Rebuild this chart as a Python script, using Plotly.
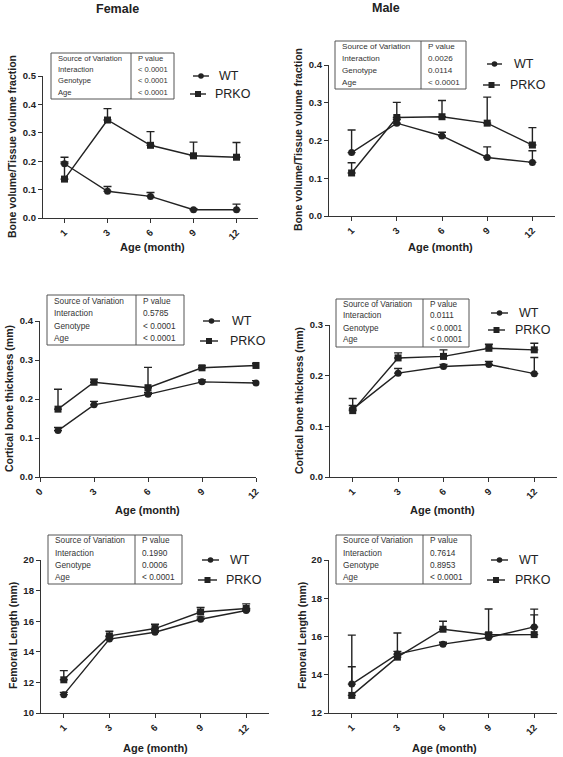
import plotly.graph_objects as go

W, H = 563, 757

# ---------------- data ----------------
ages_cat = ["1", "3", "6", "9", "12"]
ages_num = [1, 3, 6, 9, 12]
x_ticks_num = [0, 3, 6, 9, 12]

f_bv_wt = [0.191, 0.094, 0.076, 0.029, 0.029]
f_bv_wt_err = [0.023, 0.017, 0.014, 0.004, 0.020]
f_bv_ko = [0.137, 0.345, 0.256, 0.219, 0.214]
f_bv_ko_err = [0.060, 0.040, 0.048, 0.048, 0.052]

m_bv_wt = [0.168, 0.246, 0.212, 0.155, 0.142]
m_bv_wt_err = [0.060, 0.010, 0.010, 0.028, 0.031]
m_bv_ko = [0.114, 0.261, 0.263, 0.246, 0.188]
m_bv_ko_err = [0.027, 0.040, 0.043, 0.069, 0.046]

f_ct_wt = [0.119, 0.185, 0.212, 0.244, 0.241]
f_ct_wt_err = [0.008, 0.009, 0.005, 0.005, 0.006]
f_ct_ko = [0.174, 0.243, 0.229, 0.280, 0.286]
f_ct_ko_err = [0.051, 0.008, 0.052, 0.005, 0.005]

m_ct_wt = [0.134, 0.205, 0.218, 0.222, 0.204]
m_ct_wt_err = [0.021, 0.009, 0.004, 0.006, 0.032]
m_ct_ko = [0.131, 0.235, 0.238, 0.254, 0.251]
m_ct_ko_err = [0.010, 0.010, 0.013, 0.008, 0.013]

f_fl_wt = [11.20, 14.83, 15.28, 16.13, 16.70]
f_fl_wt_err = [0.15, 0.15, 0.12, 0.15, 0.10]
f_fl_ko = [12.17, 15.04, 15.52, 16.60, 16.83]
f_fl_ko_err = [0.60, 0.30, 0.28, 0.30, 0.30]

m_fl_wt = [13.51, 15.08, 15.60, 15.95, 16.50]
m_fl_wt_err = [2.56, 1.10, 0.10, 1.49, 0.93]
m_fl_ko = [12.92, 14.92, 16.38, 16.09, 16.10]
m_fl_ko_err = [1.50, 0.30, 0.42, 0.10, 1.03]

table_sources = ["Interaction", "Genotype", "Age"]
p_bv_female = ["< 0.0001", "< 0.0001", "< 0.0001"]
p_bv_male = ["0.0026", "0.0114", "< 0.0001"]
p_ct_female = ["0.5785", "< 0.0001", "< 0.0001"]
p_ct_male = ["0.0111", "< 0.0001", "< 0.0001"]
p_fl_female = ["0.1990", "0.0006", "< 0.0001"]
p_fl_male = ["0.7614", "0.8953", "< 0.0001"]

series_names = ["WT", "PRKO"]
ylabel_bv = "Bone volume/Tissue volume fraction"
ylabel_ct = "Cortical bone thickness (mm)"
ylabel_fl = "Femoral Length (mm)"
xlabel = "Age (month)"

FONT = "Liberation Sans, Arial, sans-serif"
INK = "#222222"
AX = "#333333"


def px(x):
    return x / W


def py(y):
    return 1 - y / H


panels = [
    dict(dom=(43, 258, 76, 218), x=ages_cat, xtype="category",
         wt=f_bv_wt, wte=f_bv_wt_err, ko=f_bv_ko, koe=f_bv_ko_err,
         yr=[0, 0.5], dt=0.1, fmt=".1f",
         table=(51, 131, 174, 53, 99, [58, 69.5, 81, 92], 7.6), pv=p_bv_female,
         leg=((193, 209, 217, 76), (190, 206, 213, 94)),
         ylab=(ylabel_bv, 12, 147), xlab=(152, 247)),
    dict(dom=(329, 555, 65, 216), x=ages_cat, xtype="category",
         wt=m_bv_wt, wte=m_bv_wt_err, ko=m_bv_ko, koe=m_bv_ko_err,
         yr=[0, 0.4], dt=0.1, fmt=".1f",
         table=(335, 421, 466, 41, 89, [46, 58, 70, 82], 8.1), pv=p_bv_male,
         leg=((487, 502, 512, 64), (483, 500, 508, 85)),
         ylab=(ylabel_bv, 298, 140), xlab=(440, 247)),
    dict(dom=(40, 256, 321, 477), x=ages_num, xtype="linear",
         wt=f_ct_wt, wte=f_ct_wt_err, ko=f_ct_ko, koe=f_ct_ko_err,
         yr=[0, 0.4], dt=0.1, fmt=".1f",
         table=(47, 136, 184, 295, 345, [301, 313, 326, 338], 8.3), pv=p_ct_female,
         leg=((203, 220, 230, 321), (200, 218, 228, 341)),
         ylab=(ylabel_ct, 9, 399), xlab=(147, 510)),
    dict(dom=(330, 557, 325, 477), x=ages_cat, xtype="category",
         wt=m_ct_wt, wte=m_ct_wt_err, ko=m_ct_ko, koe=m_ct_ko_err,
         yr=[0, 0.3], dt=0.1, fmt=".1f",
         table=(336, 423, 469, 299, 347, [304, 316, 328, 340], 8.2), pv=p_ct_male,
         leg=((491, 508, 517, 313), (488, 505, 513, 330)),
         ylab=(ylabel_ct, 299, 401), xlab=(442, 510)),
    dict(dom=(41, 269, 560, 713), x=ages_cat, xtype="category",
         wt=f_fl_wt, wte=f_fl_wt_err, ko=f_fl_ko, koe=f_fl_ko_err,
         yr=[10, 20], dt=2, fmt="d",
         table=(48, 135, 182, 535, 584, [540, 553, 565, 577], 8.3), pv=p_fl_female,
         leg=((202, 219, 228, 560), (198, 217, 224, 580)),
         ylab=(ylabel_fl, 13, 636), xlab=(155, 748)),
    dict(dom=(329, 557, 560, 713), x=ages_cat, xtype="category",
         wt=m_fl_wt, wte=m_fl_wt_err, ko=m_fl_ko, koe=m_fl_ko_err,
         yr=[12, 20], dt=2, fmt="d",
         table=(336, 423, 471, 535, 584, [540, 553, 565, 577], 8.3), pv=p_fl_male,
         leg=((491, 508, 517, 560), (487, 505, 513, 580)),
         ylab=(ylabel_fl, 302, 636), xlab=(444, 748)),
]

fig = go.Figure()
shapes = []
annotations = []
layout_axes = {}

for i, p in enumerate(panels, start=1):
    xa = "x" if i == 1 else f"x{i}"
    ya = "y" if i == 1 else f"y{i}"
    x0, x1, yt, yb = p["dom"]
    for name, vals, errs, sym, msize in [
        (series_names[0], p["wt"], p["wte"], "circle", 7),
        (series_names[1], p["ko"], p["koe"], "square", 7),
    ]:
        fig.add_trace(go.Scatter(
            x=p["x"], y=vals, name=name, xaxis=xa, yaxis=ya,
            mode="lines+markers", showlegend=False,
            line=dict(color=INK, width=1.4),
            marker=dict(symbol=sym, size=msize, color=INK),
            error_y=dict(type="data", array=errs, arrayminus=[0] * len(errs),
                         symmetric=False, color=INK, thickness=1.4, width=4),
            cliponaxis=False,
        ))
    xkey = "xaxis" if i == 1 else f"xaxis{i}"
    ykey = "yaxis" if i == 1 else f"yaxis{i}"
    xcfg = dict(domain=[px(x0), px(x1)], anchor=ya, showline=True, linecolor=AX,
                linewidth=1.3, ticks="outside", ticklen=4, tickwidth=1.2, tickcolor=AX,
                showgrid=False, zeroline=False, tickangle=-45, automargin=False,
                tickfont=dict(family=FONT, size=9.5, color=INK, weight="bold"),
                fixedrange=True)
    if p["xtype"] == "category":
        xcfg.update(type="category", range=[-0.5, 4.5],
                    categoryorder="array", categoryarray=ages_cat)
    else:
        xcfg.update(type="linear", range=[0, 12], tickmode="array",
                    tickvals=x_ticks_num, ticktext=[str(v) for v in x_ticks_num])
    layout_axes[xkey] = xcfg
    layout_axes[ykey] = dict(domain=[py(yb), py(yt)], anchor=xa, range=p["yr"],
                             dtick=p["dt"], tick0=p["yr"][0], tickformat=p["fmt"],
                             showline=True, linecolor=AX, linewidth=1.3,
                             ticks="outside", ticklen=4, tickwidth=1.2, tickcolor=AX,
                             showgrid=False, zeroline=False, automargin=False,
                             tickfont=dict(family=FONT, size=9.5, color=INK, weight="bold"),
                             fixedrange=True)

    # statistics table
    tx0, tdiv, tx1, ty0, ty1, rows, fs = p["table"]
    shapes.append(dict(type="rect", xref="paper", yref="paper",
                       x0=px(tx0), x1=px(tx1), y0=py(ty1), y1=py(ty0),
                       line=dict(color="#555555", width=1)))
    shapes.append(dict(type="line", xref="paper", yref="paper",
                       x0=px(tdiv), x1=px(tdiv), y0=py(ty1), y1=py(ty0),
                       line=dict(color="#555555", width=1)))
    col1 = ["Source of Variation"] + table_sources
    col2 = ["P value"] + p["pv"]
    for r, (a, b) in enumerate(zip(col1, col2)):
        for txt, xx in ((a, tx0 + 5), (b, tdiv + 5)):
            annotations.append(dict(text=txt, xref="paper", yref="paper",
                                    x=px(xx), y=py(rows[r]), xanchor="left",
                                    yanchor="middle", showarrow=False,
                                    font=dict(family=FONT, size=fs, color="#333333")))

    # legend (drawn as key glyphs)
    for (lx0, lx1, ltx, ly), sym, nm in zip(p["leg"], ("circle", "square"), series_names):
        shapes.append(dict(type="line", xref="paper", yref="paper",
                           x0=px(lx0), x1=px(lx1), y0=py(ly), y1=py(ly),
                           line=dict(color=INK, width=1.4)))
        cx = (lx0 + lx1) / 2
        r = 2.8 if sym == "circle" else 3.0
        shapes.append(dict(type="circle" if sym == "circle" else "rect",
                           xref="paper", yref="paper",
                           x0=px(cx - r), x1=px(cx + r), y0=py(ly + r), y1=py(ly - r),
                           fillcolor=INK, line=dict(color=INK, width=0)))
        annotations.append(dict(text=nm, xref="paper", yref="paper",
                                x=px(ltx), y=py(ly), xanchor="left", yanchor="middle",
                                showarrow=False,
                                font=dict(family=FONT, size=12.5, color=INK)))

    # axis titles
    yl, ylx, yly = p["ylab"]
    annotations.append(dict(text=yl, xref="paper", yref="paper", x=px(ylx), y=py(yly),
                            xanchor="center", yanchor="middle", textangle=-90,
                            showarrow=False,
                            font=dict(family=FONT, size=10.5, color=INK, weight="bold")))
    xlx, xly = p["xlab"]
    annotations.append(dict(text=xlabel, xref="paper", yref="paper", x=px(xlx), y=py(xly),
                            xanchor="center", yanchor="middle", showarrow=False,
                            font=dict(family=FONT, size=11, color=INK, weight="bold")))

for txt, xx, yy in (("Female", 117, 9), ("Male", 386, 8)):
    annotations.append(dict(text=txt, xref="paper", yref="paper", x=px(xx), y=py(yy),
                            xanchor="center", yanchor="middle", showarrow=False,
                            font=dict(family=FONT, size=12.5, color=INK, weight="bold")))

fig.update_layout(
    width=W, height=H, margin=dict(l=0, r=0, t=0, b=0, autoexpand=False),
    paper_bgcolor="white", plot_bgcolor="white",
    font=dict(family=FONT, color=INK),
    shapes=shapes, annotations=annotations, showlegend=False,
    **layout_axes,
)

fig.write_html(
    "out.html",
    config={"displayModeBar": False},
    post_script="document.body.style.margin='0';document.body.style.overflow='hidden';",
)
